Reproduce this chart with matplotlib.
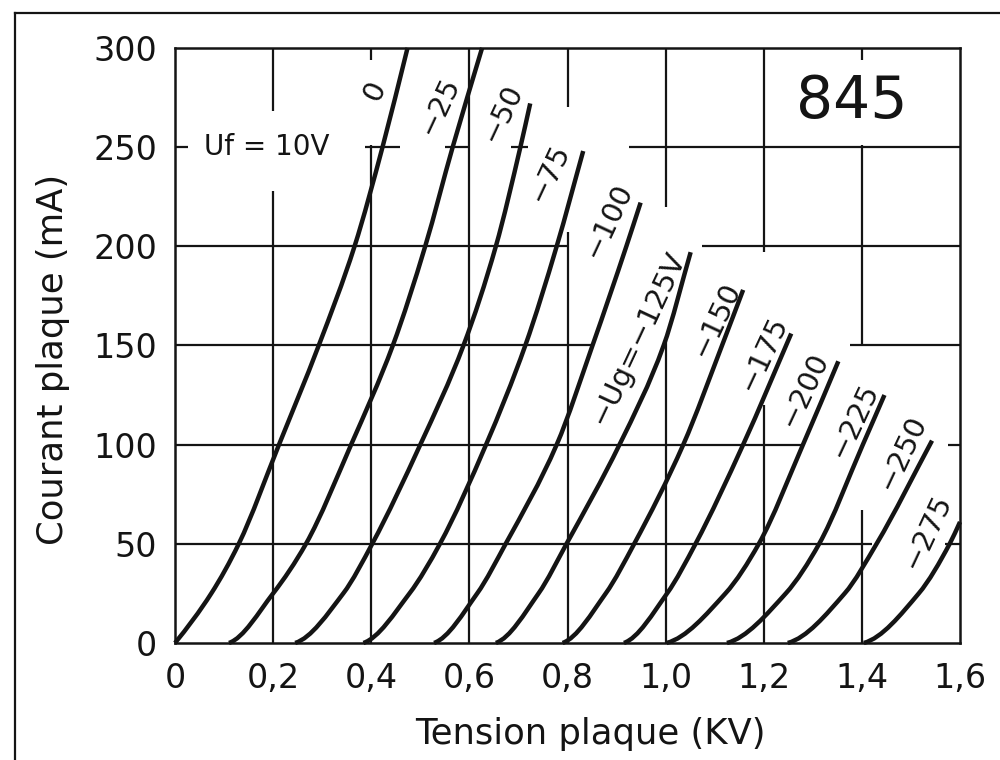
import numpy as np
import matplotlib
matplotlib.use("Agg")
import matplotlib.pyplot as plt
from matplotlib.lines import Line2D
from matplotlib.path import Path
from matplotlib.patches import PathPatch

# Plate characteristics of the 845 triode: plate current (mA) vs plate voltage (kV)
# one pair of lists per grid bias Ug (V)
kv_ug0 = [0.0, 0.074, 0.13, 0.212, 0.293, 0.366, 0.423, 0.474]
ma_ug0 = [0, 25, 50, 100, 150, 200, 250, 300]
kv_ug25 = [0.11, 0.20, 0.267, 0.359, 0.444, 0.51, 0.566, 0.626]
ma_ug25 = [0, 25, 50, 100, 150, 200, 250, 300]
kv_ug50 = [0.245, 0.343, 0.402, 0.50, 0.588, 0.654, 0.704, 0.724]
ma_ug50 = [0, 25, 50, 100, 150, 200, 250, 272]
kv_ug75 = [0.384, 0.478, 0.54, 0.634, 0.714, 0.778, 0.832]
ma_ug75 = [0, 25, 50, 100, 150, 200, 248]
kv_ug100 = [0.528, 0.616, 0.674, 0.778, 0.851, 0.920, 0.949]
ma_ug100 = [0, 25, 50, 100, 150, 200, 222]
kv_ug125 = [0.654, 0.741, 0.798, 0.906, 0.996, 1.051]
ma_ug125 = [0, 25, 50, 100, 150, 197]
kv_ug150 = [0.79, 0.878, 0.936, 1.036, 1.115, 1.158]
ma_ug150 = [0, 25, 50, 100, 150, 178]
kv_ug175 = [0.915, 1.003, 1.061, 1.158, 1.256]
ma_ug175 = [0, 25, 50, 100, 156]
kv_ug200 = [1.002, 1.122, 1.19, 1.28, 1.352]
ma_ug200 = [0, 25, 50, 100, 142]
kv_ug225 = [1.125, 1.245, 1.313, 1.402, 1.446]
ma_ug225 = [0, 25, 50, 100, 125]
kv_ug250 = [1.249, 1.365, 1.43, 1.543]
ma_ug250 = [0, 25, 50, 102]
kv_ug275 = [1.404, 1.516, 1.579, 1.60]
ma_ug275 = [0, 25, 50, 61]

curve_labels = ["0", "\u221225", "\u221250", "\u221275", "\u2212100",
                "\u2212Ug=\u2212125V", "\u2212150", "\u2212175", "\u2212200",
                "\u2212225", "\u2212250", "\u2212275"]
label_kv = [0.408, 0.54, 0.668, 0.764, 0.883, 0.943, 1.103, 1.20, 1.282, 1.384, 1.482, 1.533]
label_ma = [278, 271, 267, 237, 213, 154, 163, 146, 128, 112, 96, 56]

x_ticks = [0, 0.2, 0.4, 0.6, 0.8, 1.0, 1.2, 1.4, 1.6]
x_ticklabels = ["0", "0,2", "0,4", "0,6", "0,8", "1,0", "1,2", "1,4", "1,6"]
y_ticks = [0, 50, 100, 150, 200, 250, 300]

# grid drawn as broken segments, leaving room for the curve labels
vgrid = [(0.2, 0, 228), (0.2, 268, 300),
         (0.4, 0, 251), (0.4, 294, 300),
         (0.6, 0, 300),
         (0.8, 0, 207), (0.8, 270, 300),
         (1.0, 0, 152), (1.0, 220, 300),
         (1.2, 0, 120), (1.2, 197, 300),
         (1.4, 0, 67), (1.4, 150, 251), (1.4, 294, 300)]
hgrid = [(250, 0, 0.026), (250, 0.388, 0.458), (250, 0.55, 0.6),
         (250, 0.685, 0.72), (250, 0.925, 1.6),
         (200, 0, 0.8), (200, 1.075, 1.6),
         (150, 0, 0.851), (150, 1.375, 1.6),
         (100, 0, 1.283), (100, 1.575, 1.6),
         (50, 0, 1.42), (50, 1.57, 1.6)]

INK = "#141414"
plt.rcParams["font.family"] = ["DejaVu Sans"]

fig = plt.figure(figsize=(10, 7.6), dpi=100)
ax = fig.add_axes([0.175, 0.154, 0.785, 0.783])
ax.set_xlim(0, 1.6)
ax.set_ylim(0, 300)


def smooth_path(xs, ys, toe):
    # monotone cubic (Fritsch-Carlson) through the read points, as Bezier segments
    x = np.asarray(xs, float)
    y = np.asarray(ys, float)
    h = np.diff(x)
    d = np.diff(y) / h
    m = np.zeros_like(x)
    for i in range(1, len(x) - 1):
        w1 = 2 * h[i] + h[i - 1]
        w2 = h[i] + 2 * h[i - 1]
        m[i] = (w1 + w2) / (w1 / d[i - 1] + w2 / d[i])
    m[0] = d[0] * toe
    m[-1] = d[-1]
    verts = [(x[0], y[0])]
    codes = [Path.MOVETO]
    for i in range(len(h)):
        verts += [(x[i] + h[i] / 3, y[i] + m[i] * h[i] / 3),
                  (x[i + 1] - h[i] / 3, y[i + 1] - m[i + 1] * h[i] / 3),
                  (x[i + 1], y[i + 1])]
        codes += [Path.CURVE4] * 3
    return Path(verts, codes)


for x, y0, y1 in vgrid:
    ax.plot([x, x], [y0, y1], color=INK, lw=1.6, solid_capstyle="butt", zorder=1)
for y, x0, x1 in hgrid:
    ax.plot([x0, x1], [y, y], color=INK, lw=1.6, solid_capstyle="butt", zorder=1)

curves = [(kv_ug0, ma_ug0), (kv_ug25, ma_ug25), (kv_ug50, ma_ug50),
          (kv_ug75, ma_ug75), (kv_ug100, ma_ug100), (kv_ug125, ma_ug125),
          (kv_ug150, ma_ug150), (kv_ug175, ma_ug175), (kv_ug200, ma_ug200),
          (kv_ug225, ma_ug225), (kv_ug250, ma_ug250), (kv_ug275, ma_ug275)]
for i, (kv, ma) in enumerate(curves):
    toe = 0.9 if i == 0 else 0.3
    ax.add_patch(PathPatch(smooth_path(kv, ma, toe), facecolor="none",
                           edgecolor=INK, lw=3.2, capstyle="butt",
                           joinstyle="round", zorder=3, clip_on=False))

for txt, x, y in zip(curve_labels, label_kv, label_ma):
    ax.text(x, y, txt, rotation=65, ha="center", va="center",
            fontsize=21, color=INK, rotation_mode="anchor")

ax.text(0.06, 250, "Uf = 10V", ha="left", va="center", fontsize=20, color=INK)
ax.text(1.38, 273, "845", ha="center", va="center", fontsize=42, color=INK)

ax.set_xticks(x_ticks)
ax.set_xticklabels(x_ticklabels)
ax.set_yticks(y_ticks)
ax.tick_params(length=0, labelsize=24, colors=INK)
ax.tick_params(axis="y", pad=13)
ax.tick_params(axis="x", pad=14)
for s in ax.spines.values():
    s.set_linewidth(1.8)
    s.set_color(INK)

ax.set_xlabel("Tension plaque (KV)", fontsize=25.5, color=INK)
ax.set_ylabel("Courant plaque (mA)", fontsize=25.5, color=INK)
ax.xaxis.set_label_coords(0.529, -0.125)
ax.yaxis.set_label_coords(-0.134, 0.476)

# outer frame of the sheet
fig.add_artist(Line2D([0.015, 0.015], [0.0, 0.983], color=INK, lw=1.6))
fig.add_artist(Line2D([0.015, 1.0], [0.983, 0.983], color=INK, lw=1.6))

fig.savefig("out.png", dpi=100, facecolor="white")
